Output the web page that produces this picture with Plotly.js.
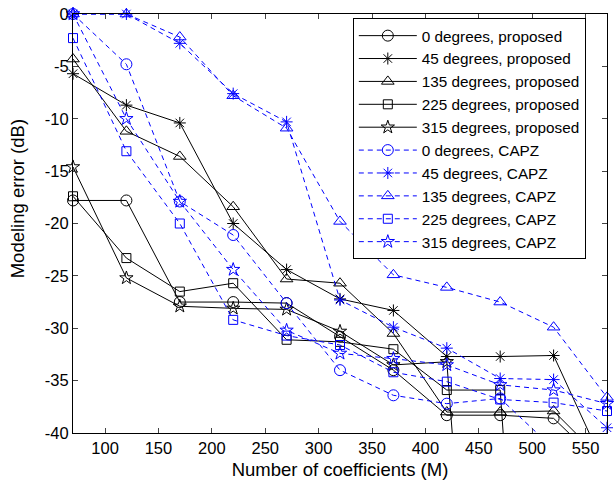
<!DOCTYPE html>
<html>
<head>
<meta charset="utf-8">
<script src="https://cdn.plot.ly/plotly-3.0.1.min.js"></script>
<style>html,body{margin:0;padding:0;background:#fff;}#chart{width:615px;height:486px;}</style>
</head>
<body>
<div id="chart"></div>
<script>
// Number of coefficients (M)
var coeffs = [70, 120, 170, 220, 270, 320, 370, 420, 470, 520, 570];

// Proposed method (black, solid)
var prop0   = [-17.8, -17.8, -27.5, -27.5, -27.6, -30.8, -34.0, -38.3, -38.3, -38.6, -43.5];
var prop45  = [-5.7, -8.7, -10.4, -20.0, -24.4, -27.2, -28.3, -32.7, -32.7, -32.6, -43.7];
var prop135 = [-4.3, -11.2, -13.6, -18.4, -25.3, -25.7, -30.5, -38.0, -38.0, -37.9, -43.0];
var prop225 = [-17.4, -23.3, -26.5, -25.7, -31.1, -31.3, -32.0, -35.9, -35.9, -110, -110];
var prop315 = [-14.6, -25.2, -27.9, -28.1, -28.2, -30.3, -33.5, -33.2, -100, -100, -100];

// CAPZ (blue, dashed)
var capz0   = [0, -4.8, -17.9, -21.1, -27.6, -34.0, -36.4, -37.2, -36.7, -41.5, -44.0];
var capz45  = [0, 0, -2.8, -7.6, -10.3, -27.3, -29.9, -31.9, -34.8, -34.9, -39.5];
var capz135 = [0, 0, -2.2, -7.8, -10.9, -19.8, -24.9, -26.1, -27.5, -29.9, -36.6];
var capz225 = [-2.3, -13.1, -20.0, -29.2, -30.7, -31.6, -34.2, -35.1, -36.8, -37.1, -37.9];
var capz315 = [0, -10.0, -17.9, -24.4, -30.2, -32.4, -32.9, -33.5, -35.4, -35.9, -37.2];

var seriesNames = [
  "0 degrees, proposed", "45 degrees, proposed", "135 degrees, proposed",
  "225 degrees, proposed", "315 degrees, proposed",
  "0 degrees, CAPZ", "45 degrees, CAPZ", "135 degrees, CAPZ",
  "225 degrees, CAPZ", "315 degrees, CAPZ"
];
var seriesData = [prop0, prop45, prop135, prop225, prop315, capz0, capz45, capz135, capz225, capz315];

var xTickVals = [100, 150, 200, 250, 300, 350, 400, 450, 500, 550];
var yTickVals = [0, -5, -10, -15, -20, -25, -30, -35, -40];
var yTickText = ["0", "-5", "-10", "-15", "-20", "-25", "-30", "-35", "-40"];
var xTitle = "Number of coefficients (M)";
var yTitle = "Modeling error (dB)";

var symbols = ["circle-open", "asterisk-open", "triangle-up-open", "square-open", "star-open"];
var sizes = [11, 10, 11, 9, 10];

var traces = [];
for (var i = 0; i < seriesData.length; i++) {
  var isProp = i < 5;
  var k = i % 5;
  var col = isProp ? "#000000" : "#0000ff";
  traces.push({
    type: "scatter",
    mode: "lines+markers",
    x: coeffs,
    y: seriesData[i],
    name: seriesNames[i],
    cliponaxis: false,
    line: {color: col, width: 1, dash: isProp ? "solid" : "5px,4px"},
    marker: {symbol: symbols[k], size: sizes[k], color: col, line: {color: col, width: 1}}
  });
}

var fontFam = "Liberation Sans, Arial, Helvetica, sans-serif";
var layout = {
  width: 615, height: 486,
  margin: {l: 73, r: 8, t: 14, b: 53},
  paper_bgcolor: "#fff", plot_bgcolor: "#fff",
  font: {family: fontFam, size: 16.5, color: "#000"},
  showlegend: true,
  legend: {
    x: 0.524, y: 0.99, xanchor: "left", yanchor: "top",
    bgcolor: "#fff", bordercolor: "#000", borderwidth: 1,
    font: {family: fontFam, size: 15.3, color: "#000"},
    itemwidth: 58, tracegroupgap: 0
  },
  xaxis: {
    range: [70, 570], tickvals: xTickVals, ticks: "inside", ticklen: 5,
    showline: true, linecolor: "#000", linewidth: 1, mirror: "allticks",
    showgrid: false, zeroline: false, tickfont: {size: 16.5},
    title: {text: xTitle, font: {size: 18.5}, standoff: 7}
  },
  yaxis: {
    range: [-40, 0], tickvals: yTickVals, ticktext: yTickText, ticks: "inside", ticklen: 5,
    showline: true, linecolor: "#000", linewidth: 1, mirror: "allticks",
    showgrid: false, zeroline: false, tickfont: {size: 16.5}
  },
  annotations: [{
    text: yTitle, xref: "paper", yref: "paper", x: -0.105, y: 0.56,
    xanchor: "center", yanchor: "middle", textangle: -90, showarrow: false,
    font: {family: fontFam, size: 18.5, color: "#000"}
  }]
};

Plotly.newPlot("chart", traces, layout, {staticPlot: true, displayModeBar: false});
</script>
</body>
</html>
